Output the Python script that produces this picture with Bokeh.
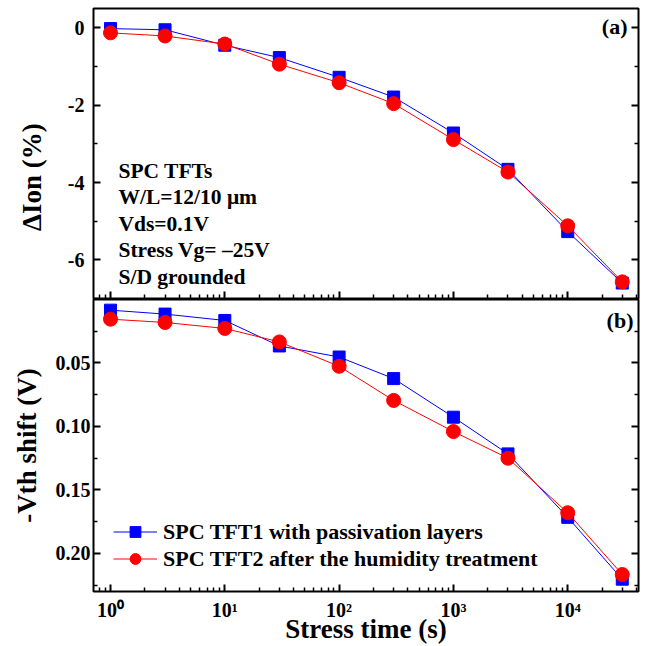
from bokeh.plotting import figure
from bokeh.layouts import column
from bokeh.models import (Range1d, FixedTicker, LinearAxis, Label, Legend, LegendItem)
from bokeh.embed import file_html
from bokeh.resources import INLINE

# Stress time points (s)
stress_time = [1, 3, 10, 30, 100, 300, 1000, 3000, 10000, 30000]

# (a) On-current degradation (%)
dion_tft1 = [-0.02, -0.05, -0.45, -0.77, -1.28, -1.79, -2.72, -3.66, -5.27, -6.60]
dion_tft2 = [-0.13, -0.21, -0.42, -0.94, -1.42, -1.96, -2.89, -3.73, -5.12, -6.57]

# (b) Threshold voltage shift (V), plotted as -Vth shift
dvth_tft1 = [0.0084, 0.0115, 0.0165, 0.0366, 0.0453, 0.0623, 0.0927, 0.1216, 0.1716, 0.2203]
dvth_tft2 = [0.0155, 0.0181, 0.0228, 0.0334, 0.0526, 0.0795, 0.1040, 0.1250, 0.1680, 0.2166]

series_names = ["SPC TFT1 with passivation layers", "SPC TFT2 after the humidity treatment"]

# Tick positions and labels
x_major = [1, 10, 100, 1000, 10000]
x_major_labels = ["10\u2070", "10\u00b9", "10\u00b2", "10\u00b3", "10\u2074"]
x_minor = [m * 10 ** k for k in range(-1, 5) for m in range(2, 10)]
dion_major = [-6, -4, -2, 0]
dion_major_labels = ["-6", "-4", "-2", "0"]
dion_minor = [-7, -5, -3, -1]
dvth_major = [0.05, 0.10, 0.15, 0.20]
dvth_major_labels = ["0.05", "0.10", "0.15", "0.20"]
dvth_minor = [0.025, 0.075, 0.125, 0.175, 0.225]

notes = ["SPC TFTs", "W/L=12/10 \u03bcm", "Vds=0.1V", "Stress Vg= \u201325V", "S/D grounded"]

FONT = "Liberation Serif"
BLUE = "#0000FF"
RED = "#FF0000"
NBSP = "\u00a0"

x_range = Range1d(0.71, 41600)


def make_axis(major, minor, labels=None, size="20px", standoff=8):
    ax = LinearAxis(ticker=FixedTicker(ticks=major, minor_ticks=minor))
    ax.major_tick_in = 7
    ax.major_tick_out = 0
    ax.minor_tick_in = 4
    ax.minor_tick_out = 0
    ax.major_tick_line_width = 2
    ax.minor_tick_line_width = 1.5
    ax.axis_line_color = None
    if labels is not None:
        ax.major_label_overrides = dict(zip(major, labels))
        ax.major_label_text_font = FONT
        ax.major_label_text_font_style = "bold"
        ax.major_label_text_font_size = size
        ax.major_label_text_color = "black"
        ax.major_label_standoff = standoff
    else:
        # mirrored tick marks only, no numbers
        ax.major_label_overrides = {t: "" for t in major}
        ax.major_label_text_font_size = "0px"
        ax.major_label_standoff = 0
    return ax


def style_axis_label(ax, text, standoff):
    ax.axis_label = text
    ax.axis_label_text_font = FONT
    ax.axis_label_text_font_style = "bold"
    ax.axis_label_text_font_size = "27px"
    ax.axis_label_text_color = "black"
    ax.axis_label_standoff = standoff


def base_figure(height, y_range, border_top, border_bottom):
    p = figure(width=651, height=height, x_axis_type="log", x_range=x_range, y_range=y_range,
               output_backend="svg", toolbar_location=None,
               x_axis_location=None, y_axis_location=None,
               min_border_left=93, min_border_right=13,
               min_border_top=border_top, min_border_bottom=border_bottom)
    p.grid.visible = False
    p.outline_line_color = "black"
    p.outline_line_width = 2
    p.background_fill_color = "white"
    p.border_fill_color = "white"
    return p


def draw_series(p, y1, y2):
    l1 = p.line(stress_time, y1, line_color=BLUE, line_width=1)
    s1 = p.scatter(stress_time, y1, marker="square", size=12, fill_color=BLUE, line_color=BLUE)
    l2 = p.line(stress_time, y2, line_color=RED, line_width=1)
    s2 = p.scatter(stress_time, y2, marker="circle", size=14, fill_color=RED, line_color=RED)
    return (l1, s1), (l2, s2)


def panel_tag(p, text, x, y):
    p.add_layout(Label(x=x, y=y, x_units="screen", y_units="screen", text=text,
                       text_font=FONT, text_font_style="bold", text_font_size="22px",
                       text_align="right", text_baseline="middle", text_color="black"))


# ---- (a) Delta Ion ----
top = base_figure(299, Range1d(-7, 0.5), 8, 1)
ya = make_axis(dion_major, dion_minor, dion_major_labels, standoff=9)
style_axis_label(ya, "\u0394Ion (%)" + NBSP * 7, 18)
top.add_layout(ya, "left")
top.add_layout(make_axis(dion_major, dion_minor), "right")
top.add_layout(make_axis(x_major, x_minor), "below")
draw_series(top, dion_tft1, dion_tft2)

for i, txt in enumerate(notes):
    top.add_layout(Label(x=25, y=128 - i * 26.6, x_units="screen", y_units="screen", text=txt,
                         text_font=FONT, text_font_style="bold", text_font_size="21.5px",
                         text_baseline="middle", text_color="black"))
panel_tag(top, "(a)", 534, 272)

# ---- (b) -Vth shift ----
bot = base_figure(347, Range1d(0.23, 0.0), 0, 55)
yb = make_axis(dvth_major, dvth_minor, dvth_major_labels, standoff=3)
style_axis_label(yb, "-Vth shift (V)", 11)
bot.add_layout(yb, "left")
bot.add_layout(make_axis(dvth_major, dvth_minor), "right")
xb = make_axis(x_major, x_minor, x_major_labels, standoff=7)
style_axis_label(xb, "Stress time (s)", -10)
bot.add_layout(xb, "below")
r1, r2 = draw_series(bot, dvth_tft1, dvth_tft2)

legend = Legend(items=[LegendItem(label=series_names[0], renderers=list(r1)),
                       LegendItem(label=series_names[1], renderers=list(r2))],
                location=(20, 19), border_line_color=None, background_fill_alpha=0,
                padding=0, margin=0, spacing=0, glyph_width=44, glyph_height=27,
                label_standoff=6, label_text_font=FONT, label_text_font_style="bold",
                label_text_font_size="22px", label_text_color="black")
bot.add_layout(legend)
panel_tag(bot, "(b)", 540, 271)

layout = column(top, bot, spacing=0)
open("out.html", "w").write(file_html(layout, INLINE))
